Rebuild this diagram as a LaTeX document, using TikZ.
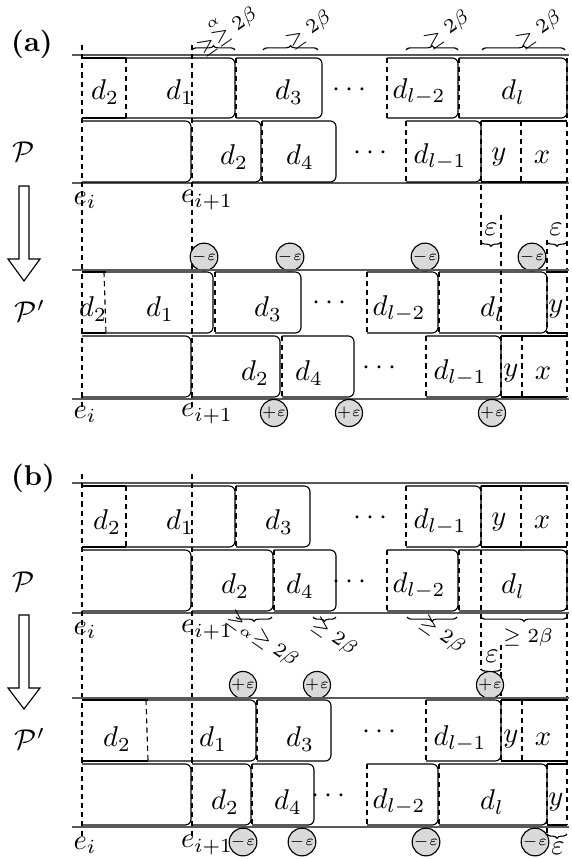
\documentclass[tikz,border=0pt]{standalone}
\usepackage{amsmath}
\usetikzlibrary{decorations.pathreplacing}

% a job with a rounded right end, and a flat one (left ends are drawn as separators)
\newcommand{\rjob}[4]{\draw[rounded corners=2pt] (#1,#3) -- (#2,#3) -- (#2,#4) -- (#1,#4);}
\newcommand{\fjob}[4]{\draw (#1,#3) -- (#2,#3) (#1,#4) -- (#2,#4);}

\begin{document}
\begin{tikzpicture}[x=0.35pt,y=-0.35pt,
	sep/.style={dash pattern=on 1.8pt off 1.4pt},
	rule/.style={gray!70!black,line width=0.55pt},
	eps/.style={circle,draw,fill=gray!30,inner sep=0pt,minimum size=7.7pt,font=\tiny},
	brc/.style={decorate,decoration={brace,amplitude=1.5pt}},
	rbrc/.style={decorate,decoration={brace,mirror,amplitude=1.5pt}},
	bnd/.style={font=\scriptsize,inner sep=0.5pt}]
	\useasboundingbox (0,0) rectangle (571,859);

	% ---------------- (a) ----------------
	\node (la) at (32,44) {\textbf{(a)}};
	\draw[rule] (72,55) -- (569,55);
	\draw[rule] (72,183) -- (569,183);
	\draw[sep] (82,45) -- (82,408);
	\draw[sep] (192,45) -- (192,408);
	\draw[sep] (481,121) -- (481,247);
	\draw[sep] (501,215) -- (501,333);
	\draw[sep] (547,240) -- (547,333);
	\draw[sep] (567,58) -- (567,397);
	% P, row 1
	\fjob{82}{126}{58}{118}
	\rjob{126}{235}{58}{118}
	\rjob{236}{322}{58}{118}
	\rjob{387}{458}{58}{118}
	\rjob{459}{567}{58}{118}
	\foreach \x in {126,236,387,459} \draw[sep] (\x,58) -- (\x,118);
	\node (a11) at (105,92) {$d_2$};
	\node (a12) at (180,92) {$d_1$};
	\node (a13) at (289,92) {$d_3$};
	\node (a14) at (352,90) {$\cdots$};
	\node (a15) at (419,92) {$d_{l-2}$};
	\node (a16) at (513,92) {$d_l$};
	% P, row 2
	\rjob{82}{191}{121}{182}
	\rjob{192}{261}{121}{182}
	\rjob{262}{336}{121}{182}
	\rjob{406}{481}{121}{182}
	\fjob{481}{521}{121}{182}
	\fjob{521}{567}{121}{182}
	\foreach \x in {262,406,521} \draw[sep] (\x,121) -- (\x,182);
	\node (a21) at (234,157) {$d_2$};
	\node (a22) at (300,157) {$d_4$};
	\node (a23) at (373,153) {$\cdots$};
	\node (a24) at (440,157) {$d_{l-1}$};
	\node (a25) at (499,157) {$y$};
	\node (a26) at (542,157) {$x$};
	% bounds
	\draw[brc] (192,50) -- (235,50);
	\draw[brc] (263,50) -- (318,50);
	\draw[brc] (406,50) -- (458,50);
	\draw[brc] (482,50) -- (565,50);
	\node[bnd,rotate=35] (ab1) at (224,27) {$\geq\overset{\alpha}{\geq}2\beta$};
	\node[bnd,rotate=35] (ab2) at (309,30) {$\geq 2\beta$};
	\node[bnd,rotate=35] (ab3) at (447,30) {$\geq 2\beta$};
	\node[bnd,rotate=35] (ab4) at (539,30) {$\geq 2\beta$};
	\node (aP) at (24,152) {$\mathcal{P}$};
	\node (aei) at (85,200) {$e_i$};
	\node (aej) at (207,200) {$e_{i+1}$};
	\draw (19,186) -- (19,259) -- (8,259) -- (24,281) -- (40,259) -- (29,259) -- (29,186) -- cycle;
	% shift
	\draw[rbrc] (481,242) -- (501,242);
	\draw[rbrc] (547,242) -- (567,242);
	\node (ae1) at (491,229) {$\varepsilon$};
	\node (ae2) at (556,229) {$\varepsilon$};
	\node[eps] (am1) at (204,257) {$-\varepsilon$};
	\node[eps] (am2) at (290,257) {$-\varepsilon$};
	\node[eps] (am3) at (425,257) {$-\varepsilon$};
	\node[eps] (am4) at (532,257) {$-\varepsilon$};
	% P', rows
	\draw[rule] (72,270) -- (569,270);
	\draw[rule] (72,399) -- (569,399);
	\fjob{82}{106}{272}{333}
	\rjob{106}{213}{272}{333}
	\rjob{215}{301}{272}{333}
	\rjob{367}{438}{272}{333}
	\rjob{439}{547}{272}{333}
	\fjob{547}{567}{272}{333}
	\draw[sep] (104,272) -- (106,333);
	\foreach \x in {215,367,439} \draw[sep] (\x,272) -- (\x,333);
	\node (b11) at (93,309) {$d_2$};
	\node (b12) at (160,309) {$d_1$};
	\node (b13) at (268,309) {$d_3$};
	\node (b14) at (332,303) {$\cdots$};
	\node (b15) at (399,309) {$d_{l-2}$};
	\node (b16) at (492,309) {$d_l$};
	\node (b17) at (556,309) {$y$};
	\rjob{82}{191}{336}{397}
	\rjob{192}{280}{336}{397}
	\rjob{282}{354}{336}{397}
	\rjob{426}{501}{336}{397}
	\fjob{501}{522}{336}{397}
	\fjob{522}{567}{336}{397}
	\foreach \x in {282,426,501,522} \draw[sep] (\x,336) -- (\x,397);
	\node (b21) at (255,373) {$d_2$};
	\node (b22) at (309,373) {$d_4$};
	\node (b23) at (382,368) {$\cdots$};
	\node (b24) at (460,373) {$d_{l-1}$};
	\node (b25) at (511,373) {$y$};
	\node (b26) at (543,373) {$x$};
	\node (bP) at (30,311) {$\mathcal{P}'$};
	\node (bei) at (85,414) {$e_i$};
	\node (bej) at (207,414) {$e_{i+1}$};
	\node[eps] (ap1) at (274,413) {$+\varepsilon$};
	\node[eps] (ap2) at (349,413) {$+\varepsilon$};
	\node[eps] (ap3) at (492,413) {$+\varepsilon$};

	% ---------------- (b) ----------------
	\node (lb) at (33,478) {\textbf{(b)}};
	\draw[rule] (72,483) -- (569,483);
	\draw[rule] (72,613) -- (569,613);
	\draw[sep] (82,474) -- (82,838);
	\draw[sep] (192,474) -- (192,838);
	\draw[sep] (481,486) -- (481,670);
	\draw[sep] (501,645) -- (501,761);
	\draw[sep] (547,764) -- (547,833);
	\draw[sep] (567,486) -- (567,825);
	% P, row 1
	\fjob{82}{126}{486}{547}
	\rjob{126}{235}{486}{547}
	\rjob{236}{310}{486}{547}
	\rjob{406}{481}{486}{547}
	\fjob{481}{521}{486}{547}
	\fjob{521}{567}{486}{547}
	\foreach \x in {126,236,406,521} \draw[sep] (\x,486) -- (\x,547);
	\node (c11) at (107,522) {$d_2$};
	\node (c12) at (180,522) {$d_1$};
	\node (c13) at (279,522) {$d_3$};
	\node (c14) at (373,518) {$\cdots$};
	\node (c15) at (440,522) {$d_{l-1}$};
	\node (c16) at (499,522) {$y$};
	\node (c17) at (542,522) {$x$};
	% P, row 2
	\rjob{82}{191}{550}{611}
	\rjob{192}{273}{550}{611}
	\rjob{274}{336}{550}{611}
	\rjob{387}{458}{550}{611}
	\rjob{459}{567}{550}{611}
	\foreach \x in {274,387,459} \draw[sep] (\x,550) -- (\x,611);
	\node (c21) at (235,586) {$d_2$};
	\node (c22) at (300,586) {$d_4$};
	\node (c23) at (352,582) {$\cdots$};
	\node (c24) at (419,586) {$d_{l-2}$};
	\node (c25) at (513,586) {$d_l$};
	% bounds
	\draw[rbrc] (236,617) -- (272,617);
	\draw[rbrc] (313,617) -- (336,617);
	\draw[rbrc] (407,617) -- (457,617);
	\draw[rbrc] (481,617) -- (567,617);
	\node[bnd,rotate=-35] (cb1) at (262,639) {$\geq_{\alpha}\geq 2\beta$};
	\node[bnd,rotate=-35] (cb2) at (334,637) {$\geq 2\beta$};
	\node[bnd,rotate=-35] (cb3) at (442,635) {$\geq 2\beta$};
	\node[bnd] (cb4) at (528,637) {$\geq 2\beta$};
	\node (cP) at (24,582) {$\mathcal{P}$};
	\node (cei) at (85,630) {$e_i$};
	\node (cej) at (207,630) {$e_{i+1}$};
	\draw (19,615) -- (19,688) -- (8,688) -- (24,709) -- (40,688) -- (29,688) -- (29,615) -- cycle;
	% shift
	\draw[rbrc] (481,669) -- (501,669);
	\node (ce1) at (492,656) {$\varepsilon$};
	\node[eps] (cp1) at (243,685) {$+\varepsilon$};
	\node[eps] (cp2) at (317,685) {$+\varepsilon$};
	\node[eps] (cp3) at (490,685) {$+\varepsilon$};
	% P', rows
	\draw[rule] (72,698) -- (569,698);
	\draw[rule] (72,827) -- (569,827);
	\fjob{82}{148}{700}{761}
	\rjob{148}{256}{700}{761}
	\rjob{257}{331}{700}{761}
	\rjob{426}{501}{700}{761}
	\fjob{501}{522}{700}{761}
	\fjob{522}{567}{700}{761}
	\draw[sep] (146,700) -- (148,761);
	\foreach \x in {257,426,522} \draw[sep] (\x,700) -- (\x,761);
	\node (d11) at (117,739) {$d_2$};
	\node (d12) at (213,739) {$d_1$};
	\node (d13) at (300,739) {$d_3$};
	\node (d14) at (382,732) {$\cdots$};
	\node (d15) at (460,739) {$d_{l-1}$};
	\node (d16) at (511,739) {$y$};
	\node (d17) at (543,739) {$x$};
	\rjob{82}{191}{764}{825}
	\rjob{192}{251}{764}{825}
	\rjob{252}{314}{764}{825}
	\rjob{367}{438}{764}{825}
	\rjob{439}{547}{764}{825}
	\fjob{547}{567}{764}{825}
	\foreach \x in {252,367,439} \draw[sep] (\x,764) -- (\x,825);
	\node (d21) at (225,802) {$d_2$};
	\node (d22) at (288,802) {$d_4$};
	\node (d23) at (331,796) {$\cdots$};
	\node (d24) at (399,802) {$d_{l-2}$};
	\node (d25) at (492,802) {$d_l$};
	\node (d26) at (556,802) {$y$};
	\node (dP) at (30,739) {$\mathcal{P}'$};
	\node (dei) at (85,845) {$e_i$};
	\node (dej) at (207,845) {$e_{i+1}$};
	\draw[rbrc] (547,834) -- (567,834);
	\node (de1) at (558,848) {$\varepsilon$};
	\node[eps] (dm1) at (243,842) {$-\varepsilon$};
	\node[eps] (dm2) at (302,842) {$-\varepsilon$};
	\node[eps] (dm3) at (426,842) {$-\varepsilon$};
	\node[eps] (dm4) at (535,842) {$-\varepsilon$};
\end{tikzpicture}
\end{document}
